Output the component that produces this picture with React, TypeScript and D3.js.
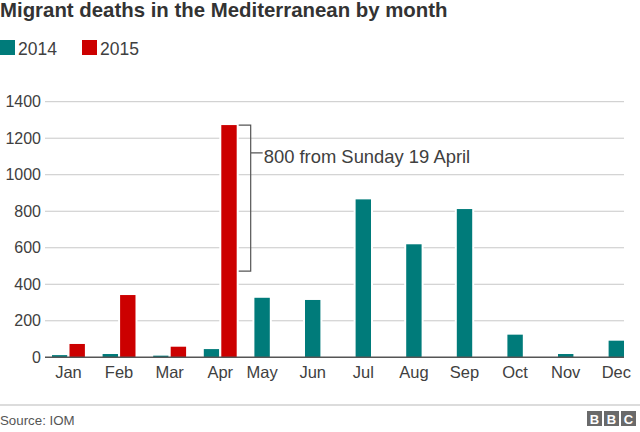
import React from "react";
import * as d3 from "d3";

const months = ["Jan", "Feb", "Mar", "Apr", "May", "Jun", "Jul", "Aug", "Sep", "Oct", "Nov", "Dec"];
const deaths2014 = [12, 18, 9, 45, 326, 314, 865, 619, 812, 124, 18, 91];
const deaths2015 = [73, 341, 58, 1272, null, null, null, null, null, null, null, null];
const years = ["2014", "2015"];
const yTicks = [0, 200, 400, 600, 800, 1000, 1200, 1400];

const annotationMonth = "Apr";
const annotationTotal = 1272;
const annotationPart = 800;
const annotationLabel = "800 from Sunday 19 April";

const width = 640;
const height = 432;
const font = "'Liberation Sans', Arial, Helvetica, sans-serif";
const teal = "#007b7a";
const red = "#cc0000";
const textColor = "#404040";

export default function App() {
    const y = d3.scaleLinear().domain([0, 1400]).range([357.3, 101.7]);
    const x = d3.scaleBand<string>()
        .domain(months)
        .range([52, 641.5])
        .paddingInner(0.35)
        .paddingOuter(0)
        .align(0);
    const sub = d3.scaleBand<string>().domain(years).range([0, x.bandwidth()]).paddingInner(0.12);
    const colors = d3.scaleOrdinal<string, string>().domain(years).range([teal, red]);

    const gridLeft = 45;
    const gridRight = 624;

    // label sits under the group, or under the single bar when 2015 is missing
    const labelX = (m: string, i: number) =>
        (x(m) ?? 0) + (deaths2015[i] != null ? x.bandwidth() / 2 : sub.bandwidth() / 2);

    const annRight = (x(annotationMonth) ?? 0) + (sub("2015") ?? 0) + sub.bandwidth();
    const bx0 = annRight + 2;
    const bx1 = annRight + 14;
    const yTop = y(annotationTotal);
    const yBottom = y(annotationTotal - annotationPart);
    const yTickAnn = y(1120);

    return (
        <svg width={width} height={height} style={{ position: "absolute", left: 0, top: 0, fontFamily: font }}>
            <rect width={width} height={height} fill="#fff" />

            <text x={0} y={17} fontSize={20.4} fontWeight="bold" fill="#333">
                Migrant deaths in the Mediterranean by month
            </text>

            {/* legend */}
            {years.map((yr, i) => (
                <g key={yr} transform={`translate(${i * 82},40)`}>
                    <rect width={15} height={15} fill={colors(yr)} />
                    <text x={18} y={15} fontSize={17.5} fill={textColor}>{yr}</text>
                </g>
            ))}

            {/* gridlines + y labels */}
            {yTicks.map(t => (
                <g key={t}>
                    {t > 0 && (
                        <line x1={gridLeft} x2={gridRight} y1={y(t)} y2={y(t)} stroke="#c8c8c8" strokeWidth={1} />
                    )}
                    <text x={41} y={y(t)} dy="0.35em" textAnchor="end" fontSize={16} fill={textColor}>{t}</text>
                </g>
            ))}

            {/* bars */}
            {months.map((m, i) => (
                <g key={m} transform={`translate(${x(m)},0)`}>
                    {[deaths2014[i], deaths2015[i]].map((v, j) =>
                        v == null ? null : (
                            <rect
                                key={years[j]}
                                x={sub(years[j])}
                                y={y(v)}
                                width={sub.bandwidth()}
                                height={y(0) - y(v)}
                                fill={colors(years[j])}
                                stroke="#fff"
                                strokeWidth={4}
                                paintOrder="stroke"
                            />
                        )
                    )}
                </g>
            ))}

            {/* baseline */}
            <line x1={gridLeft} x2={gridRight} y1={y(0)} y2={y(0)} stroke="#555" strokeWidth={1.5} />

            {/* month labels */}
            {months.map((m, i) => (
                <text key={m} x={labelX(m, i)} y={378} textAnchor="middle" fontSize={16.5} fill={textColor}>{m}</text>
            ))}

            {/* annotation bracket */}
            <path
                d={`M${bx0},${yTop}H${bx1}V${yBottom}H${bx0}M${bx1},${yTickAnn}H${bx1 + 12}`}
                fill="none"
                stroke="#555"
                strokeWidth={1.2}
            />
            <text x={bx1 + 13} y={yTickAnn + 10} fontSize={18.4} fill={textColor}>{annotationLabel}</text>

            {/* footer */}
            <line x1={0} x2={width} y1={405} y2={405} stroke="#d0d0d0" strokeWidth={1.5} />
            <text x={0} y={425} fontSize={13.3} fill="#555">Source: IOM</text>
            {["B", "B", "C"].map((l, i) => (
                <g key={i} transform={`translate(${587 + i * 17},411)`}>
                    <rect width={15} height={15} fill="#6a6a6a" />
                    <text x={7.5} y={12.5} textAnchor="middle" fontSize={13} fontWeight="bold" fill="#fff">{l}</text>
                </g>
            ))}
        </svg>
    );
}
